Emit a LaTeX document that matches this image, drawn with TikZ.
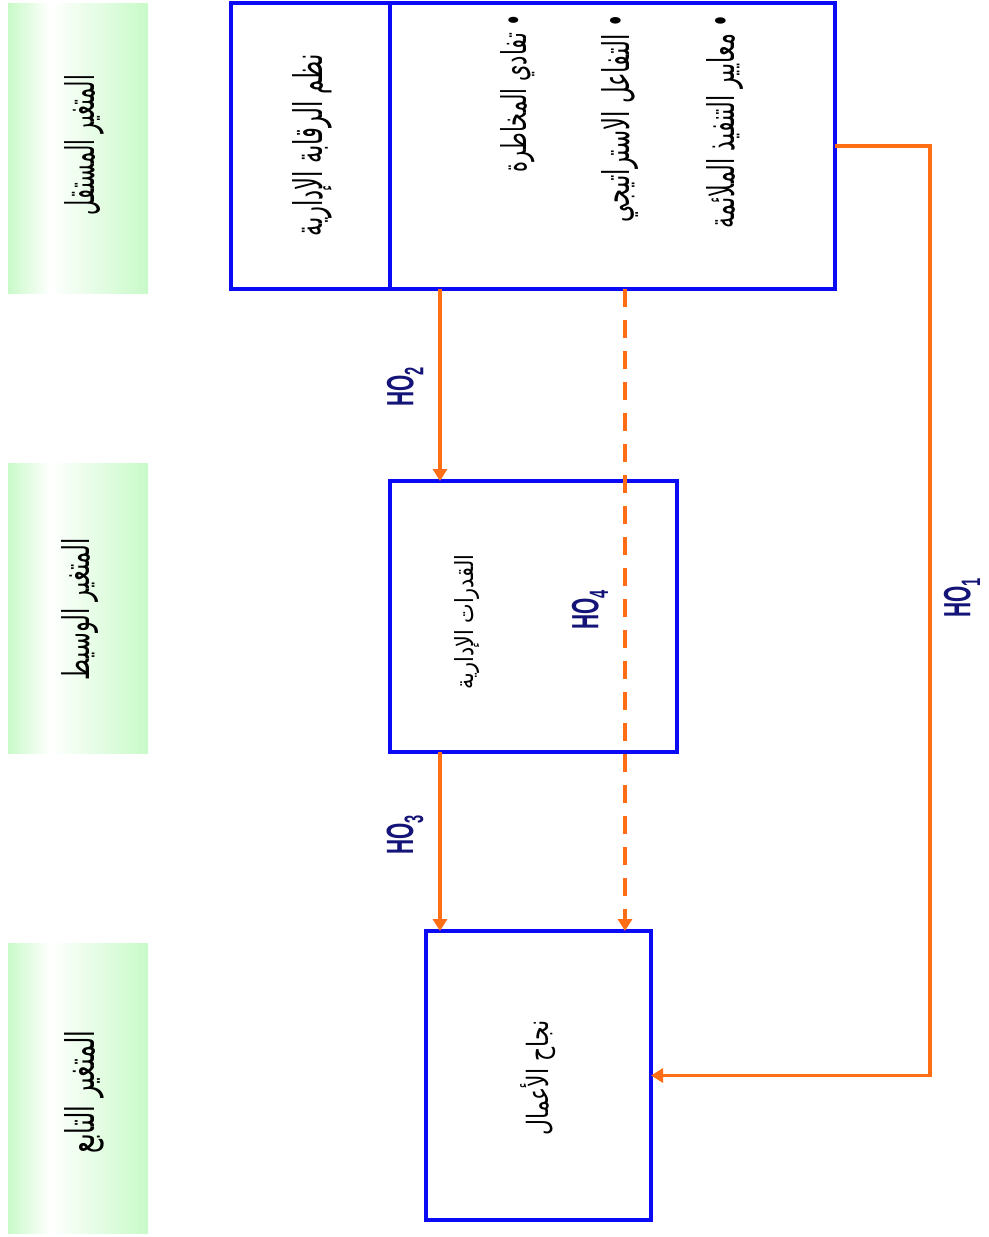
\documentclass[tikz,border=0pt]{standalone}
\usepackage{fontspec}
\setmainfont{Liberation Sans}
\newfontfamily\arabicfont[Script=Arabic]{DejaVu Sans}
\TeXXeTstate=1
\usetikzlibrary{arrows.meta,calc}
\definecolor{bx}{RGB}{10,10,245}
\definecolor{org}{RGB}{255,110,20}
\definecolor{navy}{RGB}{20,20,120}
\definecolor{lg}{RGB}{200,250,200}
\newcommand{\ARtxt}[3]{\resizebox{#1pt}{#2pt}{\arabicfont #3}}
\newcommand{\HOlbl}[1]{\scalebox{0.55}[1]{HO\textsubscript{#1}}}
\tikzset{
  blk/.style={draw=bx, line width=4.5pt, rectangle, inner sep=0pt, outer sep=0pt, fill=white},
  lbl/.style={rotate=90, inner sep=0pt, outer sep=0pt},
  arr/.style={draw=org, line width=3.6pt, -{Triangle[length=12pt,width=14pt]}},
  ho/.style={rotate=90, inner sep=0pt, text=navy, font=\bfseries\fontsize{38}{38}\selectfont}
}
\begin{document}
\begin{tikzpicture}[x=1pt,y=-1pt]
\useasboundingbox (0,0) rectangle (988,1237);
\fill[white] (0,0) rectangle (988,1237);
% green side labels
\foreach \yy in {3,463,943}{
  \shade[left color=lg, right color=white] (8,\yy) rectangle (50,\yy+290);
  \shade[left color=white, right color=lg] (50,\yy) rectangle (148,\yy+290);
}
\node[lbl] (g1) at (84,145) {\ARtxt{140}{30}{\beginR المتغير المستقل\endR}};
\node[lbl] (g2) at (80,609) {\ARtxt{142}{28}{\beginR المتغير الوسيط\endR}};
\node[lbl] (g3) at (84,1092) {\ARtxt{123}{30}{\beginR المتغير التابع\endR}};
% boxes
\node[blk, minimum width=159pt, minimum height=286pt] (ctl) at (310.5,146) {};
\node[blk, minimum width=445pt, minimum height=286pt] (dims) at (612.5,146) {};
\node[blk, minimum width=287pt, minimum height=271pt] (mid) at (533.5,616.5) {};
\node[blk, minimum width=225pt, minimum height=289pt] (bot) at (538.5,1075.5) {};
% box texts
\node[lbl] (tctl) at (312,145) {\ARtxt{182}{30}{\beginR نظم الرقابة الإدارية\endR}};
\node[lbl, anchor=east] (b1) at (518,14) {\ARtxt{158}{26}{\beginR • تفادي المخاطرة\endR}};
\node[lbl, anchor=east] (b2) at (620,14) {\ARtxt{208}{28}{\beginR • التفاعل الاستراتيجي\endR}};
\node[lbl, anchor=east] (b3) at (725,14) {\ARtxt{214}{28}{\beginR • معايير التنفيذ الملائمة\endR}};
\node[lbl] (tmid) at (467,622) {\ARtxt{135}{19}{\beginR القدرات الإدارية\endR}};
\node[lbl] (tbot) at (538,1078) {\ARtxt{115}{28}{\beginR نجاح الأعمال\endR}};
% connectors
\coordinate (xr) at (930,0);
\draw[arr] ([xshift=50pt]dims.south west) -- ([xshift=50pt]mid.north west);
\draw[arr] ([xshift=50pt]mid.south west) -- ([xshift=50pt]mid.south west |- bot.north);
\draw[arr, dash pattern=on 18pt off 13pt] ([xshift=235pt]dims.south west) -- ([xshift=235pt]dims.south west |- bot.north);
\draw[arr] (dims.east) -- (dims.east -| xr) |- (bot.east);
% hypothesis labels
\node[ho] (h2) at (405,387) {\HOlbl{2}};
\node[ho] (h3) at (405,835) {\HOlbl{3}};
\node[ho] (h4) at (590,610) {\HOlbl{4}};
\node[ho] (h1) at (962,598) {\HOlbl{1}};
\end{tikzpicture}
\end{document}
